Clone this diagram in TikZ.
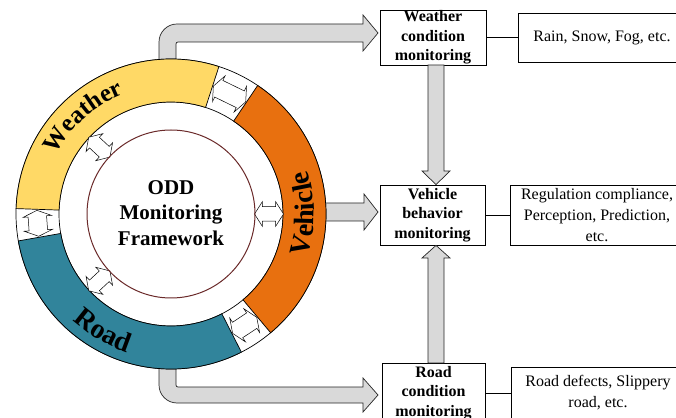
\documentclass[tikz,border=0pt]{standalone}
\usepackage{fontspec}
\setmainfont{Liberation Serif}
\usetikzlibrary{shapes.arrows,decorations.text}

\definecolor{wyellow}{HTML}{FFD966}
\definecolor{vorange}{HTML}{E8700F}
\definecolor{rteal}{HTML}{31849B}
\definecolor{ringbrown}{HTML}{6B2A2A}
\definecolor{arrowgrey}{HTML}{D9D9D9}

\newcommand\ringfont{\fontsize{28}{28}\selectfont\bfseries}
\newcommand\arcfont{\fontsize{25}{25}\selectfont\bfseries}

% one coloured sector of the ring, between angles #2 and #3
\newcommand\ringsector[3]{%
  \filldraw[fill=#1, draw=black, line width=0.7pt]
    (#2:155) arc[start angle=#2, end angle=#3, radius=155]
    -- (#3:112) arc[start angle=#3, end angle=#2, radius=112] -- cycle;}

\begin{document}
\begin{tikzpicture}[x=1pt, y=1pt,
  titlebox/.style={draw, line width=0.8pt, fill=white, align=center, inner sep=0pt,
    font=\fontsize{16}{19.5}\selectfont\bfseries},
  descbox/.style={draw, line width=0.8pt, fill=white, align=center, inner sep=0pt,
    font=\fontsize{16}{21}\selectfont},
  greyarrow/.style={draw=black!85, fill=arrowgrey, line width=0.7pt},
  linkbase/.style={double arrow, draw, fill=white, line width=0.5pt, inner xsep=0pt},
  tanarrow/.style={linkbase, inner ysep=9pt, double arrow head extend=5pt,
    double arrow tip angle=134},
  radarrow/.style={linkbase, inner ysep=7pt, double arrow head extend=5pt,
    double arrow tip angle=115, minimum height=29pt}]

\useasboundingbox (0,0) rectangle (676,417);
\clip (0,0) rectangle (676,417);

% monitoring boxes
\node[titlebox, minimum width=106pt, minimum height=55pt] (wbox) at (433,379.5)
  {Weather\\condition\\monitoring};
\node[titlebox, minimum width=105pt, minimum height=60pt] (vbox) at (432.5,202)
  {Vehicle\\behavior\\monitoring};
\node[titlebox, minimum width=103pt, minimum height=60pt] (rbox) at (433.5,24)
  {Road\\condition\\monitoring};

\node[descbox, minimum width=168pt, minimum height=49pt] (wdesc) at (602,379.5)
  {Rain, Snow, Fog, etc.};
\node[descbox, minimum width=174pt, minimum height=60pt] (vdesc) at (597,202)
  {Regulation compliance,\\Perception, Prediction,\\etc.};
\node[descbox, minimum width=174pt, minimum height=52pt] (rdesc) at (598,24)
  {Road defects, Slippery\\road, etc.};

\draw[line width=0.8pt] (wbox.east) -- (wdesc.west);
\draw[line width=0.8pt] (vbox.east) -- (vdesc.west);
\draw[line width=0.8pt] (rbox.east) -- (rdesc.west);

% grey block arrows
\coordinate (wtip) at (378,384);
\coordinate (vtip) at (378,205);
\coordinate (rtip) at (378,22);
\draw[greyarrow] (159,340) -- (159,375) arc[start angle=180, end angle=90, radius=18]
  -- (363,393) -- (363,402) -- (wtip) -- (363,366) -- (363,375)
  -- (178,375) arc[start angle=90, end angle=180, radius=2] -- (176,340) -- cycle;
\draw[greyarrow] (159,60) -- (159,32) arc[start angle=180, end angle=270, radius=18]
  -- (363,14) -- (363,5) -- (rtip) -- (363,39) -- (363,30)
  -- (178,30) arc[start angle=270, end angle=180, radius=2] -- (176,60) -- cycle;
\draw[greyarrow] (300,196) -- (364,196) -- (364,187) -- (vtip) -- (364,223)
  -- (364,214) -- (300,214) -- cycle;

\draw[greyarrow] (428,352) -- (428,246) -- (422,246) -- (vbox.north -| 436,0)
  -- (450,246) -- (444,246) -- (444,352) -- cycle;
\draw[greyarrow] (428,54) -- (428,159) -- (422,159) -- (vbox.south -| 436,0)
  -- (450,159) -- (444,159) -- (444,54) -- cycle;

% the ring
\begin{scope}[shift={(171,203)}]
  \filldraw[fill=white, line width=0.7pt] (0,0) circle[radius=155];
  \draw[line width=0.7pt] (0,0) circle[radius=112];
  \ringsector{wyellow}{72}{178}
  \ringsector{vorange}{-50}{56}
  \ringsector{rteal}{190}{297}

  \path[decorate, decoration={text along path, text align=center,
      text={|\arcfont|Weather}}]
    (159:129) arc[start angle=159, end angle=105, radius=129];
  \path[decorate, decoration={text along path, text align=center,
      text={|\ringfont|Vehicle}}]
    (-28:143) arc[start angle=-28, end angle=28, radius=143];
  \path[decorate, decoration={text along path, text align=center,
      text={|\ringfont|Road}}]
    (212:145) arc[start angle=212, end angle=268, radius=145];

  % links between neighbouring sectors
  \node[tanarrow, minimum height=36pt, rotate=154] (wv) at (64:133.5) {};
  \node[tanarrow, minimum height=26pt, rotate=94] (wr) at (184:133.5) {};
  \node[tanarrow, minimum height=29pt, rotate=33.5] (vr) at (303.5:133.5) {};

  % links between sectors and the framework
  \node[radarrow, rotate=137] (wc) at (137:98) {};
  \node[radarrow, rotate=0] (vc) at (0:98) {};
  \node[radarrow, rotate=223] (rc) at (223:98) {};

  \node[circle, draw=ringbrown, line width=1pt, minimum size=168pt, inner sep=0pt]
    (core) at (0,0) {};
  \node[align=center, font=\fontsize{21}{25.5}\selectfont\bfseries] (coretext) at (0,1)
    {ODD\\Monitoring\\Framework};
\end{scope}
\end{tikzpicture}
\end{document}
